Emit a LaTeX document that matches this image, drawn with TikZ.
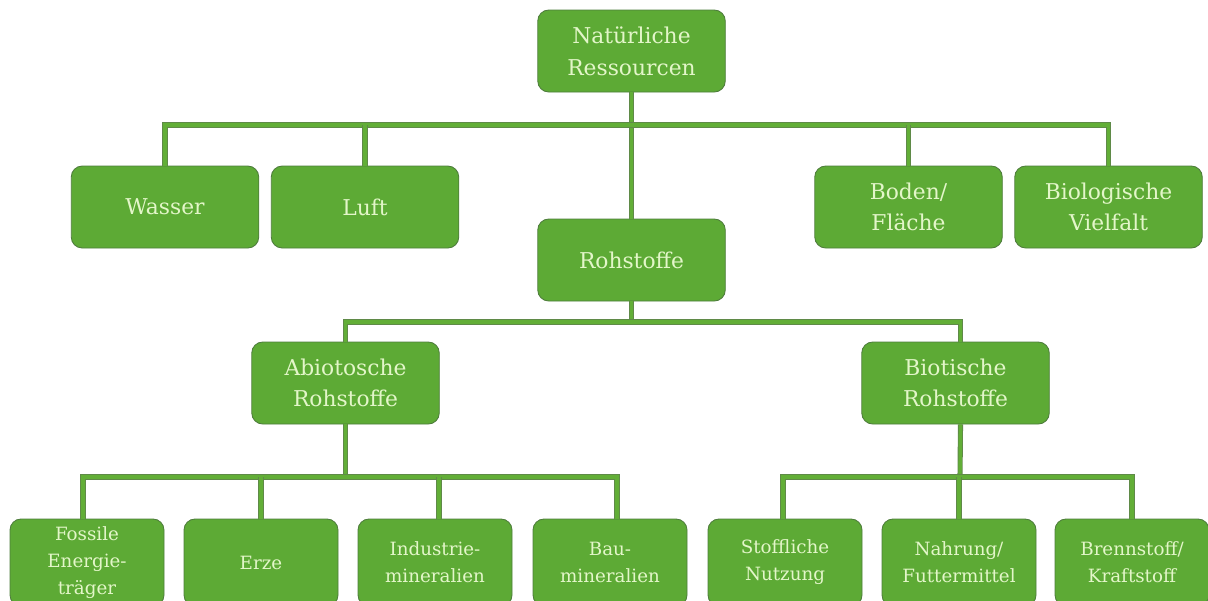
\documentclass[tikz,border=0pt]{standalone}
\usepackage{fontspec}
\setmainfont{DejaVu Serif}
\definecolor{boxfill}{HTML}{5DAA35}
\definecolor{boxline}{HTML}{4E7D3C}
\definecolor{txt}{HTML}{E3F6C9}
\definecolor{connout}{HTML}{5F8A48}
\definecolor{connin}{HTML}{62AE37}
\tikzset{
  box/.style={draw=boxline, line width=0.5pt, fill=boxfill, rounded corners=0.22cm,
    text=txt, align=center, minimum width=3.75cm, minimum height=1.64cm, inner sep=2pt,
    font=\fontsize{12.4}{18}\selectfont},
  smallbox/.style={box, minimum width=3.08cm, minimum height=1.74cm, font=\fontsize{10.4}{15.3}\selectfont},
  conn/.style={draw=connout, line width=0.5pt, double=connin, double distance=1.9pt}
}
\begin{document}
\begin{tikzpicture}
\clip (0,0) rectangle (24.16,-12);
\fill[white] (0,0) rectangle (24.16,-12);
% level 0
\node[box] (nat) at (12.63,-1.02) {Natürliche\\Ressourcen};
% level 1
\node[box] (wasser) at (3.30,-4.14) {Wasser};
\node[box] (luft) at (7.30,-4.14) {Luft};
\node[box] (boden) at (18.17,-4.14) {Boden/\\Fläche};
\node[box] (bio) at (22.17,-4.14) {Biologische\\Vielfalt};
\node[box] (roh) at (12.63,-5.20) {Rohstoffe};
% level 2
\node[box] (abio) at (6.91,-7.66) {Abiotosche\\Rohstoffe};
\node[box] (biot) at (19.11,-7.66) {Biotische\\Rohstoffe};
% level 3
\node[smallbox] (foss) at (1.74,-11.25) {Fossile\\Energie-\\träger};
\node[smallbox] (erze) at (5.22,-11.25) {Erze};
\node[smallbox] (indu) at (8.70,-11.25) {Industrie-\\mineralien};
\node[smallbox] (bau) at (12.20,-11.25) {Bau-\\mineralien};
\node[smallbox] (stoff) at (15.70,-11.25) {Stoffliche\\Nutzung};
\node[smallbox] (nahr) at (19.18,-11.25) {Nahrung/\\Futtermittel};
\node[smallbox] (brenn) at (22.64,-11.25) {Brennstoff/\\Kraftstoff};
% bus coordinates
\coordinate (b1) at (12.63,-2.50);
\coordinate (b2) at (12.63,-6.44);
\coordinate (b3) at (6.91,-9.54);
\coordinate (b4) at (19.20,-9.54);
% connectors
\draw[conn] (nat.south) -- (roh.north);
\draw[conn] (wasser.north) |- (b1) -| (bio.north);
\draw[conn] (luft.north) -- (luft.north |- b1);
\draw[conn] (boden.north) -- (boden.north |- b1);
\draw[conn] (roh.south) -- (b2);
\draw[conn] (abio.north) |- (b2) -| ([xshift=0.1cm]biot.north);
\draw[conn] (abio.south) -- (b3);
\draw[conn] ([xshift=-0.08cm]foss.north) |- (b3) -| ([xshift=0.14cm]bau.north);
\draw[conn] (erze.north) -- (erze.north |- b3);
\draw[conn] ([xshift=0.08cm]indu.north) -- ([xshift=0.08cm]indu.north |- b3);
\draw[conn] ([xshift=0.1cm]biot.south) -- (b4);
\draw[conn] ([xshift=-0.04cm]stoff.north) |- (b4) -| (brenn.north);
\draw[conn] (nahr.north) -- (nahr.north |- b4);
\end{tikzpicture}
\end{document}
